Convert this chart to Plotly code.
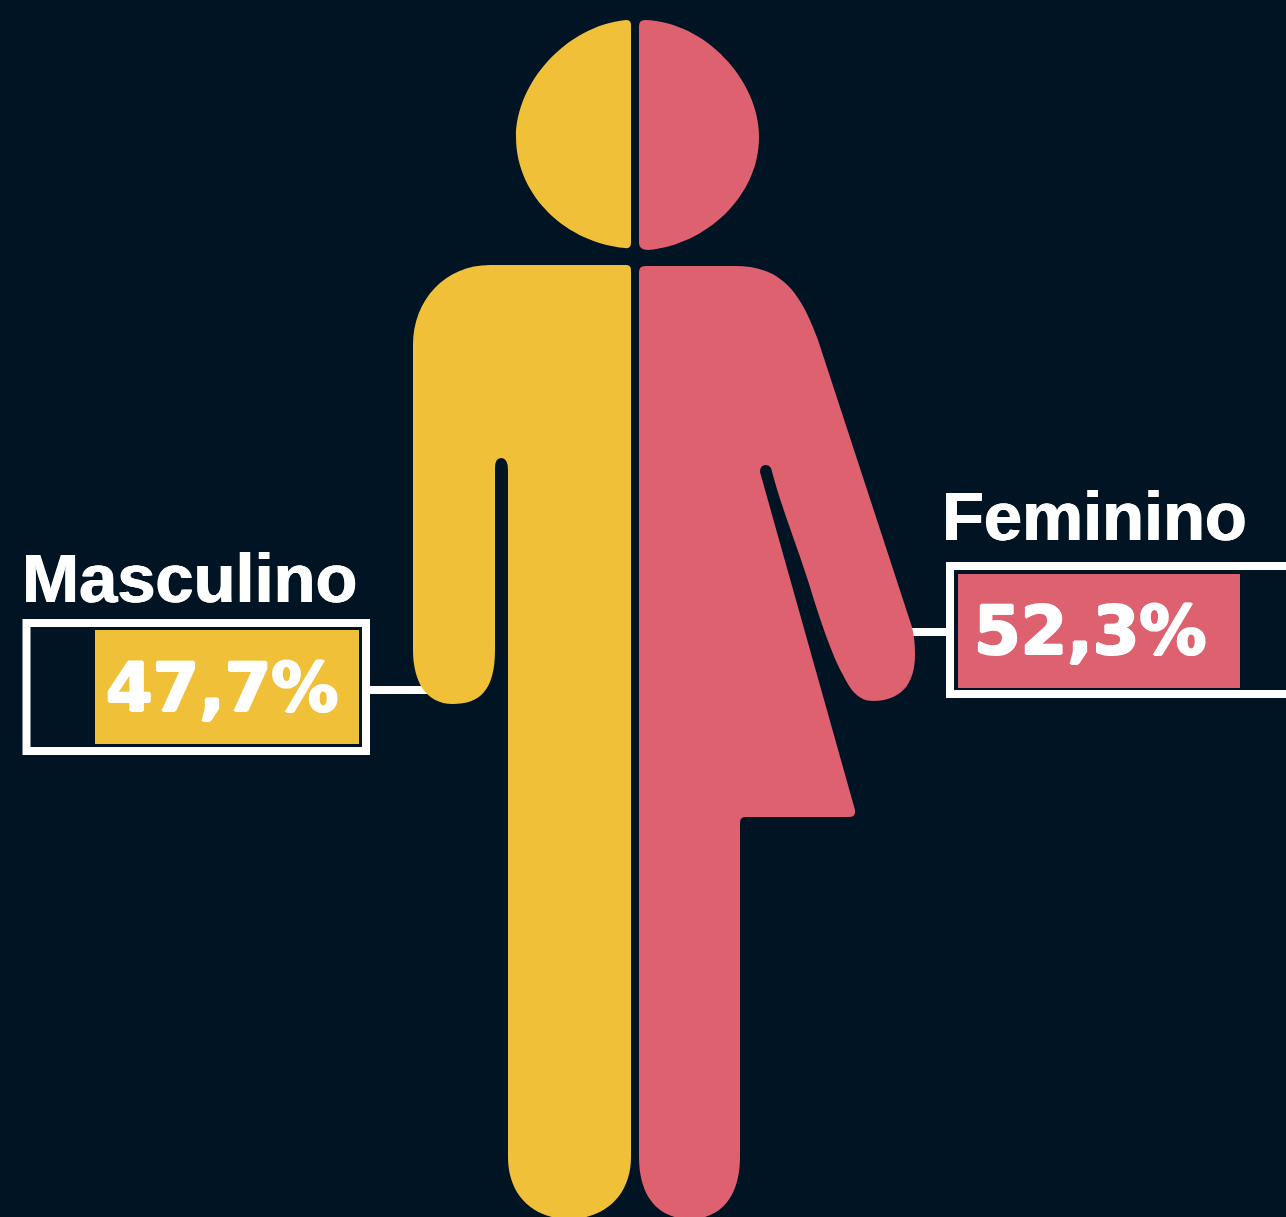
import plotly.graph_objects as go

# Data
categories = ["Masculino", "Feminino"]
values = [47.7, 52.3]
value_labels = ["47,7%", "52,3%"]

BG = "#001423"
YELLOW = "#f0c038"
PINK = "#de616f"
W, H = 1286, 1217

HEAD_M = "M 626,20 Q 631,20 631,25 L 631,243 Q 631,249 625,248 C 568,243 516,197 516,137 C 516,83 566,26 626,20 Z"
HEAD_F = "M 645,20 C 705,22 759,80 759,137 C 759,197 705,245 648,250 Q 639,250 639,243 L 639,26 Q 639,20 645,20 Z"
BODY_M = ("M 626,265 Q 631,265 631,270 L 631,1157 C 631,1195 605,1219 569,1219 C 533,1219 508,1195 508,1157 "
          "L 508,470 Q 508,458 501,458 Q 495,458 495,468 L 495,650 C 495,690 480,704 453,704 "
          "C 425,704 413,680 413,650 L 413,345 C 413,300 445,265 490,265 Z")
BODY_F = ("M 645,266 L 735,266 C 780,266 800,290 818,340 L 912,627 C 915,640 915,648 915,655 "
          "C 915,685 900,701 873,701 C 858,701 850,689 843,675 C 832,655 820,620 810,587 "
          "C 797,545 782,510 771,468 "
          "Q 769,465 766,465 Q 760,465 760,472 L 855,810 Q 856,817 849,817 L 745,817 Q 740,817 740,823 "
          "L 740,1157 C 740,1195 722,1219 690,1219 C 657,1219 639,1195 639,1157 L 639,272 Q 639,266 645,266 Z")


def path(d, color):
    return dict(type="path", path=d, xref="x", yref="y", fillcolor=color,
                line=dict(width=0), layer="below")


def rect(x0, y0, x1, y1, **kw):
    return dict(type="rect", x0=x0, y0=y0, x1=x1, y1=y1, xref="x", yref="y", layer="below", **kw)


fig = go.Figure()
fig.add_trace(go.Scatter(x=[0, W], y=[0, H], mode="markers", marker=dict(opacity=0),
                         showlegend=False, hoverinfo="skip", xaxis="x", yaxis="y"))
fig.add_trace(go.Bar(x=[values[0]], y=[categories[0]], orientation="h", marker=dict(color=YELLOW, line=dict(width=0)),
                     xaxis="x2", yaxis="y2", showlegend=False, hoverinfo="skip"))
fig.add_trace(go.Bar(x=[values[1]], y=[categories[1]], orientation="h", marker=dict(color=PINK, line=dict(width=0)),
                     xaxis="x3", yaxis="y3", showlegend=False, hoverinfo="skip"))

hidden = dict(visible=False, showgrid=False, zeroline=False, fixedrange=True)
white_line = dict(color="white", width=8)
shapes = [
    rect(370, 686, 435, 694, fillcolor="white", line=dict(width=0)),
    rect(905, 628, 950, 636, fillcolor="white", line=dict(width=0)),
    rect(26.5, 623, 366, 751, line=white_line),
    rect(950, 566, 1296, 694, line=white_line),
    path(HEAD_M, YELLOW), path(HEAD_F, PINK), path(BODY_M, YELLOW), path(BODY_F, PINK),
]


def label(text, x, y, font):
    return dict(text=text, x=x, y=y, xref="x", yref="y", xanchor="left", yanchor="middle",
                showarrow=False, font=font, borderpad=0)


name_font = dict(family="Liberation Sans", size=68.6, color="white", weight=700,
                 shadow="0.6px 0 0 white, -0.6px 0 0 white")
value_font = dict(family="DejaVu Sans", size=67, color="white", weight=700,
                  shadow="1.2px 0 0 white, -1.2px 0 0 white, 0 0.7px 0 white, 0 -0.7px 0 white")

fig.update_layout(
    width=W, height=H, margin=dict(l=0, r=0, t=0, b=0),
    paper_bgcolor=BG, plot_bgcolor="rgba(0,0,0,0)", bargap=0, showlegend=False,
    xaxis=dict(range=[0, W], domain=[0, 1], **hidden),
    yaxis=dict(range=[H, 0], domain=[0, 1], **hidden),
    xaxis2=dict(range=[60, 0], domain=[(359 - 60 * 264 / values[0]) / W, 359 / W], anchor="y2", **hidden),
    yaxis2=dict(domain=[1 - 744 / H, 1 - 630 / H], anchor="x2", **hidden),
    xaxis3=dict(range=[0, 60], domain=[958 / W, (958 + 60 * 282 / values[1]) / W], anchor="y3", **hidden),
    yaxis3=dict(domain=[1 - 688 / H, 1 - 574 / H], anchor="x3", **hidden),
    shapes=shapes,
    annotations=[
        label(categories[0], 20.5, 578, name_font),
        label(categories[1], 940.5, 516, name_font),
        label(value_labels[0], 104.5, 688, value_font),
        label(value_labels[1], 972.5, 631, value_font),
    ],
)

fig.write_html("out.html", config=dict(displayModeBar=False),
               post_script="document.body.style.margin='0';document.documentElement.style.overflow='hidden';")
